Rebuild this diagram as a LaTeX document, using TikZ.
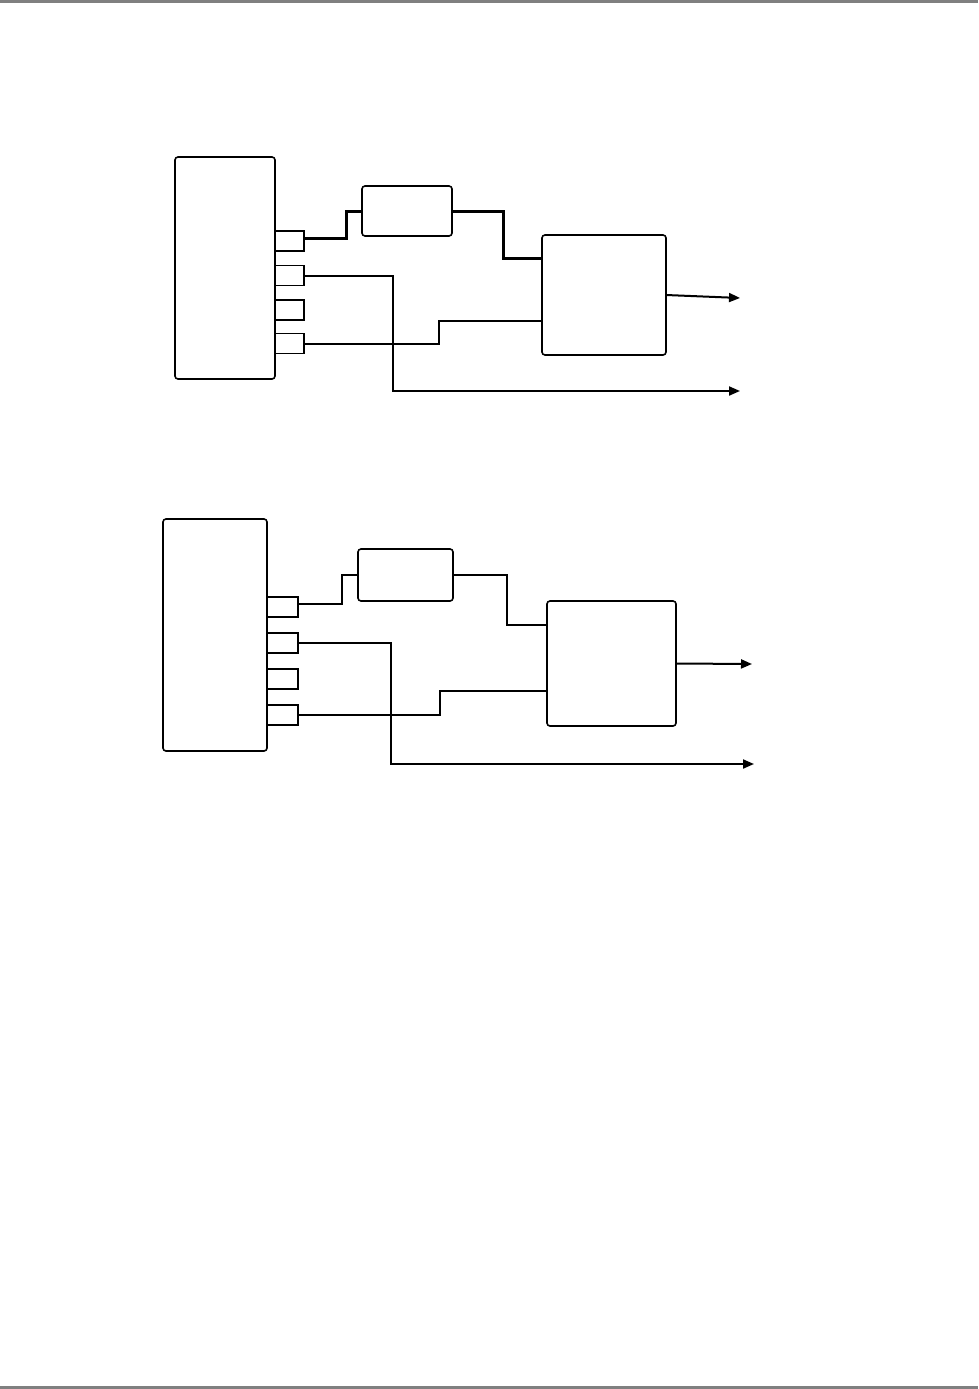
\documentclass[tikz,border=0pt]{standalone}
\usetikzlibrary{arrows.meta,calc}
\definecolor{bar}{RGB}{128,128,128}
\begin{document}
\begin{tikzpicture}[x=1pt,y=-1pt,
  blk/.style={draw, rounded corners=3pt, line width=1.6pt, inner sep=0pt, outer sep=0pt},
  port/.style={draw, line width=1.6pt, inner sep=0pt, outer sep=0pt, minimum height=20pt},
  wire/.style={line width=2pt},
  wirethick/.style={line width=3pt},
  arr/.style={line width=2pt, -{Triangle[length=11pt,width=9pt]}}]
\useasboundingbox (0,0) rectangle (978,1389);
\fill[bar] (0,0) rectangle (978,3);
\fill[bar] (0,1386) rectangle (978,1389);

% ---------- figure 1 ----------
\node[blk, minimum width=100pt, minimum height=222pt] (m1) at (225,268) {};
\node[port, minimum width=29pt] (p11) at (289.5,241) {};
\node[port, minimum width=29pt] (p12) at (289.5,275.5) {};
\node[port, minimum width=29pt] (p13) at (289.5,310) {};
\node[port, minimum width=29pt] (p14) at (289.5,343.5) {};
\node[blk, minimum width=90pt, minimum height=50pt] (s1) at (407,211) {};
\node[blk, minimum width=124pt, minimum height=120pt] (b1) at (604,295) {};
\coordinate (o1) at (740,298);
\coordinate (o2) at (740,391);

\draw[wirethick] ($(p11.east)+(0,-3)$) -- (346,238) |- (s1.west);
\draw[wirethick] (s1.east) -- (503,211) |- ($(b1.north west)+(0,23)$);
\draw[wire] (p14.east) -- (439,343.5) |- ($(b1.north west)+(0,86)$);
\draw[arr] (p12.east) -- (393,275.5) |- (o2);
\draw[arr] (b1.east) -- (o1);

% ---------- figure 2 ----------
\node[blk, minimum width=104pt, minimum height=232pt] (m2) at (215,635) {};
\node[port, minimum width=31pt] (p21) at (282.5,607) {};
\node[port, minimum width=31pt] (p22) at (282.5,643) {};
\node[port, minimum width=31pt] (p23) at (282.5,679) {};
\node[port, minimum width=31pt] (p24) at (282.5,715) {};
\node[blk, minimum width=95pt, minimum height=52pt] (s2) at (405.5,575) {};
\node[blk, minimum width=129pt, minimum height=125pt] (b2) at (611.5,663.5) {};
\coordinate (o3) at (752,664);
\coordinate (o4) at (754,764);

\draw[line width=2.5pt] ($(p21.east)+(0,-3)$) -- (342,604) |- (s2.west);
\draw[wire] (s2.east) -- (507,575) |- ($(b2.north west)+(0,24)$);
\draw[wire] (p24.east) -- (440,715) |- ($(b2.north west)+(0,90)$);
\draw[arr] (p22.east) -- (391,643) |- (o4);
\draw[arr] (b2.east) -- (o3);
\end{tikzpicture}
\end{document}
